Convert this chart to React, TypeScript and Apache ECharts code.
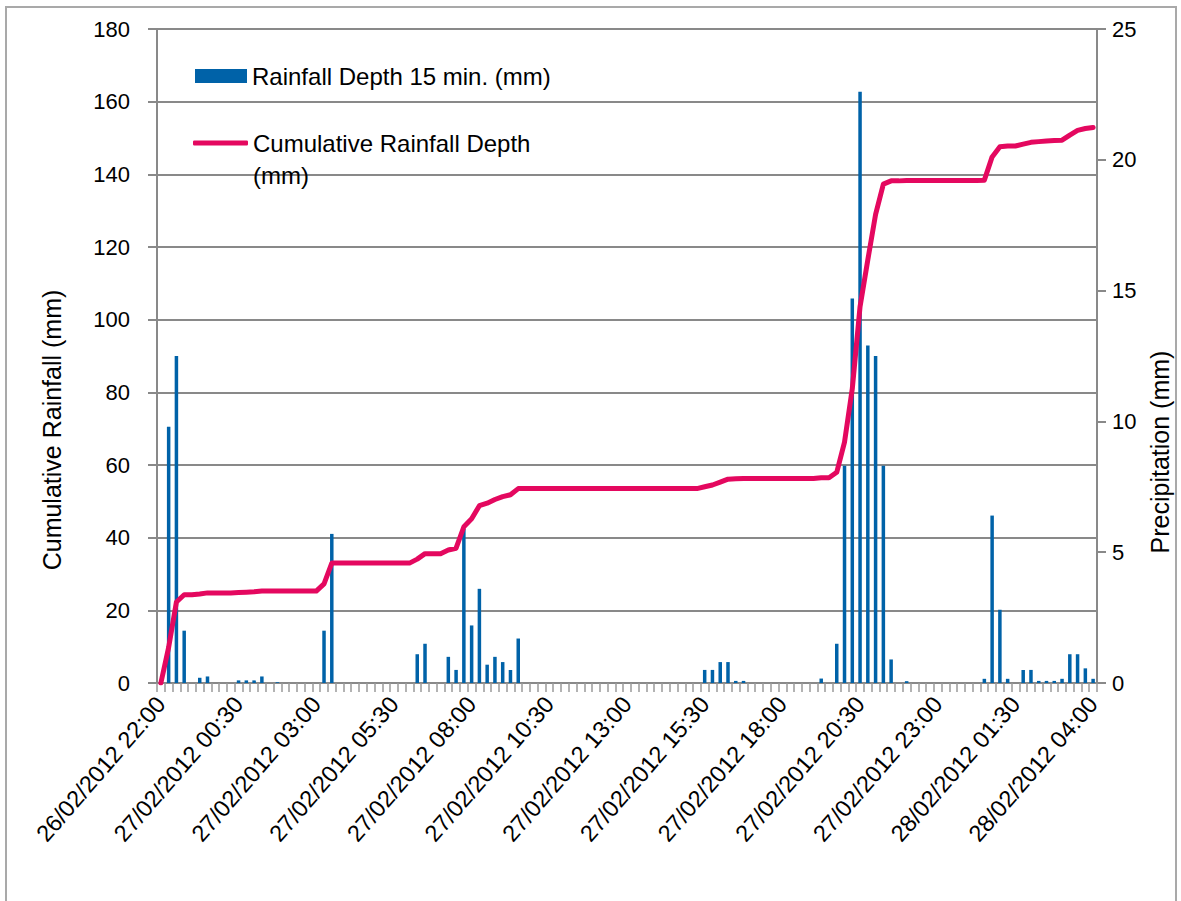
import React, { useEffect, useRef } from 'react';
import * as echarts from 'echarts';

// 15-minute time steps from 26/02/2012 22:00 to 28/02/2012 04:00
const START_UTC = Date.UTC(2012, 1, 26, 22, 0);
const STEP_MINUTES = 15;
const STEP_COUNT = 121;

const pad2 = (n: number) => String(n).padStart(2, '0');
const timeLabels: string[] = [];
for (let i = 0; i < STEP_COUNT; i++) {
  const d = new Date(START_UTC + i * STEP_MINUTES * 60000);
  timeLabels.push(
    `${pad2(d.getUTCDate())}/${pad2(d.getUTCMonth() + 1)}/${d.getUTCFullYear()} ${pad2(d.getUTCHours())}:${pad2(d.getUTCMinutes())}`
  );
}

// Rainfall depth per 15 minutes (mm), right axis
const rainfall15 = [
  0, 9.8, 12.5, 2.0, 0, 0.2, 0.25, 0, 0, 0,
  0.1, 0.1, 0.1, 0.25, 0, 0.03, 0, 0, 0, 0,
  0, 2.0, 5.7, 0, 0, 0, 0, 0, 0, 0,
  0, 0, 0, 1.1, 1.5, 0, 0, 1.0, 0.5, 5.9,
  2.2, 3.6, 0.7, 1.0, 0.8, 0.5, 1.7, 0, 0, 0,
  0, 0, 0, 0, 0, 0, 0, 0, 0, 0,
  0, 0, 0, 0, 0, 0, 0, 0, 0, 0,
  0.5, 0.5, 0.8, 0.8, 0.08, 0.08, 0, 0, 0, 0,
  0, 0, 0, 0, 0, 0.17, 0, 1.5, 8.3, 14.7,
  22.6, 12.9, 12.5, 8.3, 0.9, 0, 0.07, 0, 0, 0,
  0, 0, 0, 0, 0, 0, 0.16, 6.4, 2.8, 0.16,
  0, 0.5, 0.5, 0.08, 0.08, 0.08, 0.16, 1.1, 1.1, 0.56,
  0.16,
];

// Cumulative rainfall depth (mm), left axis
const cumulative = [
  0, 9.8, 22.3, 24.3, 24.3, 24.5, 24.8, 24.8, 24.8, 24.8,
  24.9, 25.0, 25.1, 25.3, 25.3, 25.3, 25.3, 25.3, 25.3, 25.3,
  25.3, 27.3, 33.0, 33.0, 33.0, 33.0, 33.0, 33.0, 33.0, 33.0,
  33.0, 33.0, 33.0, 34.1, 35.6, 35.6, 35.6, 36.6, 37.1, 43.0,
  45.2, 48.8, 49.5, 50.5, 51.3, 51.8, 53.5, 53.5, 53.5, 53.5,
  53.5, 53.5, 53.5, 53.5, 53.5, 53.5, 53.5, 53.5, 53.5, 53.5,
  53.5, 53.5, 53.5, 53.5, 53.5, 53.5, 53.5, 53.5, 53.5, 53.5,
  54.0, 54.5, 55.3, 56.1, 56.2, 56.3, 56.3, 56.3, 56.3, 56.3,
  56.3, 56.3, 56.3, 56.3, 56.3, 56.5, 56.5, 58.0, 66.3, 81.0,
  103.6, 116.5, 129.0, 137.3, 138.2, 138.2, 138.3, 138.3, 138.3, 138.3,
  138.3, 138.3, 138.3, 138.3, 138.3, 138.3, 138.4, 144.8, 147.6, 147.8,
  147.8, 148.3, 148.8, 149.0, 149.2, 149.3, 149.4, 150.8, 152.1, 152.6,
  152.9,
];

const BAR_NAME = 'Rainfall Depth 15 min. (mm)';
const LINE_NAME = 'Cumulative Rainfall Depth (mm)';
const LEFT_AXIS_NAME = 'Cumulative Rainfall (mm)';
const RIGHT_AXIS_NAME = 'Precipitation (mm)';

const BAR_COLOR = '#0062a8';
const LINE_COLOR = '#e4085f';
const AXIS_COLOR = '#898989';
const FONT = '"Liberation Sans", Arial, sans-serif';

export default function App() {
  const ref = useRef<HTMLDivElement>(null);

  useEffect(() => {
    if (!ref.current) return;
    const chart = echarts.init(ref.current, undefined, { renderer: 'svg' });

    const axisLine = { show: true, lineStyle: { color: AXIS_COLOR, width: 2 } };

    chart.setOption({
      animation: false,
      backgroundColor: '#ffffff',
      textStyle: { fontFamily: FONT },
      grid: { left: 157, right: 84, top: 29, bottom: 218, containLabel: false },
      graphic: [
        {
          type: 'rect',
          silent: true,
          shape: { x: 6, y: 7, width: 1170, height: 1000 },
          style: { fill: 'transparent', stroke: '#a9a9a9', lineWidth: 2 },
        },
      ],
      legend: [
        {
          data: [{ name: BAR_NAME, icon: 'rect' }],
          left: 195,
          top: 62,
          padding: 0,
          itemWidth: 52,
          itemHeight: 14,
          selectedMode: false,
          textStyle: { fontSize: 24, lineHeight: 28, color: '#000', fontFamily: FONT },
        },
        {
          data: [{ name: LINE_NAME, icon: 'roundRect' }],
          left: 193,
          top: 95,
          padding: 0,
          itemWidth: 55,
          itemHeight: 5,
          selectedMode: false,
          itemStyle: { color: LINE_COLOR },
          // first line sits level with the key, "(mm)" wraps below it
          formatter: (name: string) => ' \n' + name.replace(' (mm)', '\n(mm)'),
          textStyle: { fontSize: 24, lineHeight: 32, color: '#000', fontFamily: FONT },
        },
      ],
      xAxis: {
        type: 'category',
        data: timeLabels,
        boundaryGap: true,
        axisLine,
        axisTick: {
          show: true,
          interval: 0,
          length: 9,
          lineStyle: { color: '#9a9a9a', width: 1.5 },
        },
        axisLabel: {
          interval: 9,
          rotate: 49,
          margin: 17,
          fontSize: 23.5,
          color: '#000',
          fontFamily: FONT,
        },
        splitLine: { show: false },
      },
      yAxis: [
        {
          type: 'value',
          min: 0,
          max: 180,
          interval: 20,
          name: LEFT_AXIS_NAME,
          nameLocation: 'middle',
          nameGap: 93,
          nameRotate: 90,
          nameTextStyle: { fontSize: 25, color: '#000', fontFamily: FONT, padding: [0, 148, 0, 0] },
          axisLine,
          axisTick: { show: true, length: 9, lineStyle: { color: AXIS_COLOR, width: 2 } },
          axisLabel: { margin: 27, fontSize: 22, color: '#000', fontFamily: FONT },
          splitLine: { show: true, lineStyle: { color: AXIS_COLOR, width: 2 } },
        },
        {
          type: 'value',
          min: 0,
          max: 25,
          interval: 5,
          position: 'right',
          name: RIGHT_AXIS_NAME,
          nameLocation: 'middle',
          nameGap: 50,
          nameRotate: 90,
          nameTextStyle: { fontSize: 25, color: '#000', fontFamily: FONT, padding: [0, 192, 0, 0] },
          axisLine,
          axisTick: { show: true, length: 9, lineStyle: { color: AXIS_COLOR, width: 2 } },
          axisLabel: { margin: 15, fontSize: 22, color: '#000', fontFamily: FONT },
          splitLine: { show: false },
        },
      ],
      series: [
        {
          name: BAR_NAME,
          type: 'bar',
          yAxisIndex: 1,
          data: rainfall15,
          barWidth: 3.5,
          itemStyle: { color: BAR_COLOR },
        },
        {
          name: LINE_NAME,
          type: 'line',
          yAxisIndex: 0,
          data: cumulative,
          symbol: 'none',
          lineStyle: { color: LINE_COLOR, width: 5, cap: 'round', join: 'round' },
          itemStyle: { color: LINE_COLOR },
        },
      ],
    });

    return () => chart.dispose();
  }, []);

  return (
    <div
      ref={ref}
      style={{ position: 'absolute', left: 0, top: 0, width: 1181, height: 901 }}
    />
  );
}
